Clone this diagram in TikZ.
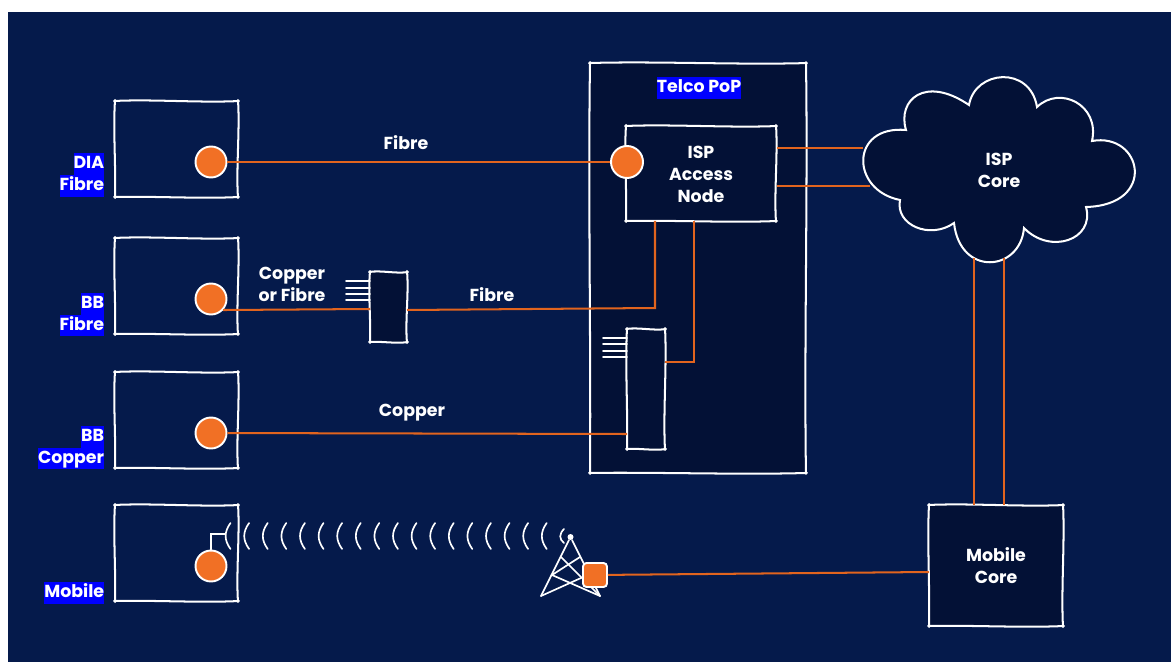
\documentclass[tikz,border=0pt]{standalone}
\usepackage{fontspec}
\setmainfont{Poppins}
\usetikzlibrary{calc}
\definecolor{navybg}{RGB}{5, 26, 75}
\definecolor{navydark}{RGB}{3, 17, 54}
\definecolor{orange1}{RGB}{241, 112, 37}
\definecolor{orange2}{RGB}{226, 100, 30}
\definecolor{hlblue}{RGB}{0, 0, 255}
\setlength{\fboxsep}{0pt}
\newcommand{\hl}[1]{\colorbox{hlblue}{\rule[-3.6pt]{0pt}{12.47pt}#1}}
\newcommand{\sketchbox}[1]{%
  \draw[sketch] ($(#1.north west)+(-1,0)$) .. controls ($(#1.north west)!.3!(#1.north east)+(0,-2)$) and ($(#1.north west)!.7!(#1.north east)+(0,2)$) .. ($(#1.north east)+(1,0)$);
  \draw[sketch] ($(#1.north east)+(0,-1)$) .. controls ($(#1.north east)!.3!(#1.south east)+(2,0)$) and ($(#1.north east)!.7!(#1.south east)+(-2,0)$) .. ($(#1.south east)+(0,1)$);
  \draw[sketch] ($(#1.south east)+(1,0)$) .. controls ($(#1.south east)!.3!(#1.south west)+(0,2)$) and ($(#1.south east)!.7!(#1.south west)+(0,-1)$) .. ($(#1.south west)+(-1,0)$);
  \draw[sketch] ($(#1.south west)+(0,1)$) .. controls ($(#1.south west)!.3!(#1.north west)+(1,0)$) and ($(#1.south west)!.7!(#1.north west)+(-2,0)$) .. ($(#1.north west)+(0,-1)$);
}
\begin{document}
\begin{tikzpicture}[
  x=0.02cm, y=-0.02cm,
  sketch/.style={draw=white, line width=1.15pt, line cap=round},
  link/.style={draw=orange2, line width=1.15pt},
  wave/.style={draw=white, line width=0.95pt, line cap=round},
  site/.style={minimum width=2.46cm, minimum height=1.92cm, inner sep=0pt, outer sep=0pt},
  darkbox/.style={fill=navydark, inner sep=0pt, outer sep=0pt},
  port/.style={circle, fill=orange1, draw=white, line width=1.1pt, minimum size=0.62cm, inner sep=0pt},
  unit/.style={rectangle, fill=orange1, draw=white, line width=1.1pt, rounded corners=2pt, minimum size=0.48cm, inner sep=0pt},
  txt/.style={text=white, align=center, font=\fontsize{9.9}{12.47}\selectfont\bfseries, inner sep=0pt},
  hlabel/.style={text=white, align=right, anchor=east, font=\fontsize{9.9}{12.47}\selectfont\bfseries, inner sep=0pt}
]
  \useasboundingbox (0,0) rectangle (1176,662);
  \fill[white] (0,0) rectangle (1176,662);
  \fill[navybg] (8,12) rectangle (1171,662);

  \node[site] (dia) at (176.5,149) {};
  \node[site] (bbfibre) at (176.5,286) {};
  \node[site] (bbcopper) at (176.5,420) {};
  \node[site] (mobile) at (176.5,553) {};
  \sketchbox{dia}
  \sketchbox{bbfibre}
  \sketchbox{bbcopper}
  \sketchbox{mobile}

  \node[hlabel] (dialabel) at (104.5,175) {\hl{DIA}\hspace{2.8pt}\\\hl{Fibre}};
  \node[hlabel] (bbfibrelabel) at (104.5,314.5) {\hl{BB}\hspace{2.2pt}\\\hl{Fibre}};
  \node[hlabel] (bbcopperlabel) at (104.5,447.5) {\hl{BB}\hspace{2.2pt}\\\hl{Copper}};
  \node[hlabel] (mobilelabel) at (104.5,593) {\hl{Mobile}};

  \node[darkbox, minimum width=4.32cm, minimum height=8.2cm] (telco) at (698,268) {};
  \sketchbox{telco}
  \node[txt] (telcolabel) at (699,88) {\hl{Telco PoP}};
  \node[darkbox, minimum width=3.0cm, minimum height=1.9cm] (access) at (701,173.5) {};
  \sketchbox{access}
  \node[txt] (accesslabel) at (701,174) {ISP\\Access\\Node};

  \node[darkbox, minimum width=0.74cm, minimum height=1.4cm] (muxa) at (388.5,307) {};
  \sketchbox{muxa}
  \node[darkbox, minimum width=0.76cm, minimum height=2.4cm] (muxb) at (646,389) {};
  \sketchbox{muxb}

  \node[darkbox, minimum width=2.68cm, minimum height=2.42cm] (mobilecore) at (996,565.5) {};
  \sketchbox{mobilecore}
  \node[txt] (mobilecorelabel) at (996,566) {Mobile\\Core};

  \draw[sketch, fill=navydark] (906,130) .. controls (897,100) and (925,75) .. (969,105)
    .. controls (975,70) and (1030,65) .. (1037,107)
    .. controls (1060,85) and (1100,105) .. (1092,141)
    .. controls (1142,132) and (1158,205) .. (1086,207)
    .. controls (1095,240) and (1050,255) .. (1024,228)
    .. controls (1020,272) and (960,277) .. (954,223)
    .. controls (930,240) and (895,225) .. (900,200)
    .. controls (850,190) and (850,125) .. (906,130) -- cycle;
  \node[txt] (ispcore) at (999,170) {ISP\\Core};

  \node[port] (diaport) at (211,162) {};
  \node[port] (bbfibreport) at (211,299) {};
  \node[port] (bbcopperport) at (211,433) {};
  \node[port, minimum width=0.6cm, minimum height=0.62cm] (mobileport) at (211,566) {};
  \node[port, minimum size=0.64cm] (accessport) at (627,162) {};

  \coordinate (copperin) at (627,434);
  \coordinate (bendfibre) at (655,308);
  \coordinate (bendcopper) at (694,362);
  \coordinate (uplinka) at (777,148);
  \coordinate (uplinkb) at (777,186);
  \coordinate (cloudin) at (863,148);
  \coordinate (cloudinb) at (870,186);
  \coordinate (coreleft) at (974,258);
  \coordinate (coreright) at (1004,258);
  \coordinate (corein) at (929,572);
  \draw[link] (diaport) -- (accessport);
  \draw[link] (bbfibreport.-42) -- ($(muxa.west)+(0,2)$);
  \draw[link] (bbcopperport) -- (copperin);
  \draw[link] (bendfibre |- access.south) -- (bendfibre) -- ($(muxa.east)+(0,3)$);
  \draw[link] (bendcopper |- access.south) -- (bendcopper) -- (muxb.east |- bendcopper);
  \draw[link] (uplinka) -- (cloudin);
  \draw[link] (uplinkb) -- (cloudinb);
  \draw[link] (coreleft) -- (coreleft |- mobilecore.north);
  \draw[link] (coreright) -- (coreright |- mobilecore.north);

  \foreach \y in {281,288,294,300} {
    \draw[wave] (346,\y) -- (muxa.west |- 0,\y);
  }
  \foreach \y in {338,344,351,357} {
    \draw[wave] (603,\y) -- (muxb.west |- 0,\y);
  }

  \node[txt] (fibretop) at (406,143) {Fibre};
  \node[txt] (copperfibre) at (292,284) {Copper\\or Fibre};
  \node[txt] (fibremid) at (492,295) {Fibre};
  \node[txt] (copperlow) at (412,412.5) {Copper};

  \coordinate (stem) at (211,534);
  \draw[wave] (mobileport) -- (stem) -- (225,534);
  \foreach \i in {0,...,17} {
    \draw[wave] ({230.5+18.6*\i},523) .. controls ({224+18.6*\i},532) and ({224+18.6*\i},540) .. ({230.5+18.6*\i},549);
  }
  \draw[wave] (564,529) .. controls (559,534) and (559,539) .. (564,543);

  \node[circle, fill=white, minimum size=0.12cm, inner sep=0pt] (towertip) at (570.5,537) {};
  \coordinate (legleft) at (541,596);
  \coordinate (legright) at (600,596);
  \draw[wave] (legleft) -- (towertip) -- (legright);
  \draw[wave] (561,557) -- (legright);
  \draw[wave] (580,557) -- (552,575) -- (legright);
  \draw[wave] (581,578) -- (legleft);
  \node[unit] (towerunit) at (595,575) {};
  \draw[link] (towerunit) -- (corein);
\end{tikzpicture}
\end{document}
